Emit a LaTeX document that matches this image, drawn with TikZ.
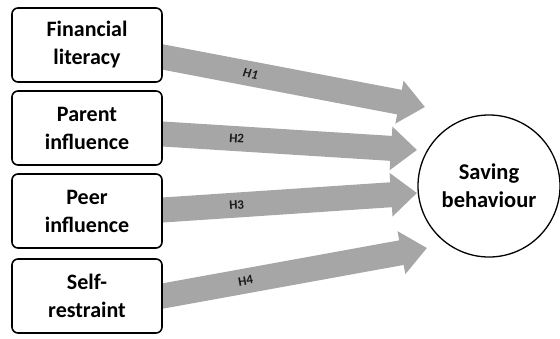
\documentclass[tikz,border=0pt]{standalone}
\usepackage{fontspec}
\setsansfont{Carlito}
\usetikzlibrary{arrows.meta,positioning,calc,backgrounds}
\definecolor{inkline}{HTML}{000000}
\definecolor{pathcol}{HTML}{A6A6A6}
\definecolor{hypcol}{HTML}{1A1A1A}

\begin{document}
\begin{tikzpicture}[
  x=1pt, y=-1pt,
  font=\sffamily\bfseries,
  var/.style={rounded corners=6pt, draw=inkline, line width=1.6pt, fill=white,
              align=center, minimum width=150pt, minimum height=74pt, inner sep=2pt,
              font=\sffamily\bfseries\fontsize{22}{28}\selectfont},
  outc/.style={circle, draw=inkline, line width=1.3pt, fill=white, align=center,
               minimum size=142pt, inner sep=0pt,
               font=\sffamily\bfseries\fontsize{22.5}{28}\selectfont},
  hyp/.style={-{Triangle[length=26pt,width=42pt]}, draw=pathcol, line width=25pt},
  hlab/.style={sloped, inner sep=0pt, text=hypcol, font=\sffamily\bfseries\fontsize{13}{15}\selectfont},
]
\useasboundingbox (0,0) rectangle (560,338);

% ---- predictors ----
\node[var](fin)  at (87,45)  {Financial\\literacy};
\node[var](par)  at (87,128) {Parent\\influence};
\node[var](peer) at (87,211) {Peer\\influence};
\node[var](self) at (87,296) {Self-\\restraint};

% ---- outcome ----
\node[outc](sav) at (489,186) {Saving\\behaviour};

% ---- arrow tips ----
\coordinate (t1) at (425,107);
\coordinate (t2) at (417,150);
\coordinate (t3) at (417,193);
\coordinate (t4) at (427,248);

% ---- hypotheses (behind the boxes) ----
\begin{scope}[on background layer]
\coordinate (s1) at ([yshift=-12pt]fin.east);
\coordinate (s2) at ([yshift=-6pt]par.east);
\coordinate (s3) at ([yshift=1pt]peer.east);
\coordinate (s4) at (self.east);
\draw[hyp] ($(s1)!-15pt!(t1)$) -- (t1) node[hlab, pos=0.37] {\itshape H1};
\draw[hyp] ($(s2)!-15pt!(t2)$) -- (t2) node[hlab, pos=0.33] {H2};
\draw[hyp] ($(s3)!-15pt!(t3)$) -- (t3) node[hlab, pos=0.33] {H3};
\draw[hyp] ($(s4)!-15pt!(t4)$) -- (t4) node[hlab, pos=0.35] {H4};
\end{scope}

\end{tikzpicture}
\end{document}
